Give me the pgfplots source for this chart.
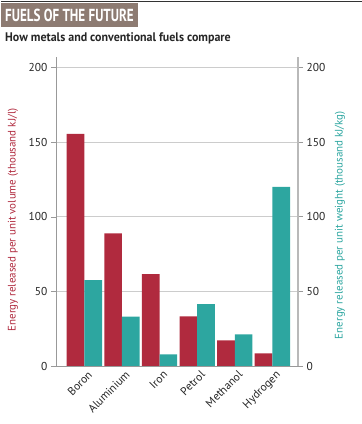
\documentclass[border=0pt]{standalone}
\usepackage{pgfplots}
\pgfplotsset{compat=1.18}
\usepackage{fontspec}
\setmainfont{PT Sans}
\definecolor{cred}{HTML}{B02A3E}
\definecolor{cteal}{HTML}{2DA6A0}
\definecolor{cbox}{HTML}{8D7B72}
\begin{document}
\begin{tikzpicture}[x=1bp,y=1bp]
\useasboundingbox (0,0) rectangle (362,424);
\fill[cbox] (1,397) rectangle (138,421);
\draw[black!80, line width=0.8bp] (1,423) -- (362,423);
\node[anchor=west, text=white, inner sep=0pt, font=\bfseries\fontsize{17.5}{17.5}\selectfont] at (5,409) {\scalebox{0.75}[1]{FUELS OF THE FUTURE}};
\node[anchor=west, text=black!85, inner sep=0pt, font=\bfseries\fontsize{12.5}{12.5}\selectfont] at (5,386) {\scalebox{0.96}[1]{How metals and conventional fuels compare}};
\pgfplotsset{common/.style={
  at={(56bp,58bp)}, anchor=south west, scale only axis,
  width=242bp, height=309bp,
  xmin=-0.753, xmax=5.68, ymin=0, ymax=207,
  ytick={0,50,100,150,200},
  tick align=outside, major tick length=5bp,
  /pgf/number format/assume math mode=true,
  tick label style={font=\fontsize{11.5}{11.5}\selectfont, text=black!85},
}}
\begin{axis}[common,
  axis y line*=left, axis x line*=bottom,
  axis line style={gray!80, line width=0.6bp},
  ytick style={gray!80},
  ymajorgrids, grid style={gray!40, line width=0.6bp},
  xtick={0,1,2,3,4,5},
  xticklabels={Boron,Aluminium,Iron,Petrol,Methanol,Hydrogen},
  x tick label style={rotate=45, anchor=north east, inner sep=1pt, xshift=4bp},
  xtick style={draw=none},
  ylabel={Energy released per unit volume (thousand kJ/l)},
  ylabel style={at={(axis description cs:-0.178,0.4725)}, anchor=center, text=cred, font=\fontsize{11}{11}\selectfont},
]
\addplot[ybar, fill=cred, draw=none, bar width=0.47, bar shift=-0.235] coordinates {(0,155.5) (1,88.8) (2,61.6) (3,33.2) (4,17.2) (5,8.5)};
\end{axis}
\begin{axis}[common,
  axis y line*=right, axis x line=none,
  axis line style={gray!55, line width=1.2bp},
  ytick style={gray!80, line width=0.6bp},
  ylabel={Energy released per unit weight (thousand kJ/kg)},
  ylabel style={at={(axis description cs:1.1736,0.456)}, anchor=center, text=cteal, font=\fontsize{11}{11}\selectfont},
]
\addplot[ybar, fill=cteal, draw=none, bar width=0.47, bar shift=0.235] coordinates {(0,57.6) (1,33) (2,7.8) (3,41.5) (4,21.2) (5,120)};
\end{axis}
\end{tikzpicture}
\end{document}
